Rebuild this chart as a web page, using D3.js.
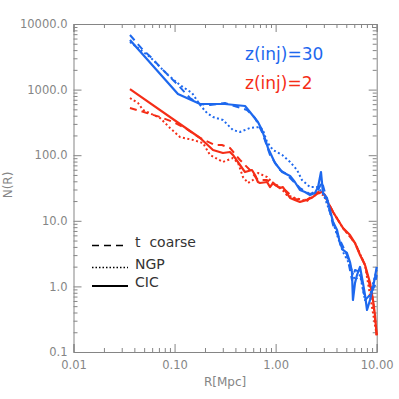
<!DOCTYPE html>
<html>
<head>
<meta charset="utf-8">
<script src="https://cdn.jsdelivr.net/npm/d3@7"></script>
<style>
  body { margin: 0; background: #fff; }
  svg { display: block; font-family: "DejaVu Sans", sans-serif; }
  .axis path { stroke: #858585; }
  .axis line { stroke: #858585; }
  .axis text { fill: #858585; font-size: 11.5px; font-family: "DejaVu Sans", sans-serif; }
</style>
</head>
<body>
<div class="chart"></div>
<script>
// [R (Mpc), N(R)] pairs
var blueCic = [[0.0362,5700],[0.108,857],[0.179,603],[0.315,603],[0.498,562],[0.557,455],[0.668,321],[0.733,242],
    [0.840,129],[0.986,76],[1.16,55.4],[1.39,48.2],[1.55,39],[1.74,29.5],[1.95,27.5],[2.19,24.7],[2.45,26.5],
    [2.63,32.7],[2.81,55.4],[2.94,26.5],[3.22,22.3],[3.45,14.6],[3.70,9.59],[4.05,7.24],[4.33,4.59],[4.64,3.59],
    [5.08,3.23],[5.44,2.35],[5.69,1.66],[5.82,0.62],[6.10,1.13],[6.38,1.49],[6.84,1.98],[7.31,1.13],[7.66,0.74],
    [8.02,0.437],[8.59,0.62],[9.19,0.98],[9.62,1.39],[10.0,1.98]];
var blueCoarse = [[0.0362,6800],[0.0488,4010],[0.0598,3030],[0.0718,2210],[0.0861,1670],[0.108,1175],[0.142,745],
    [0.179,603],[0.224,582],[0.315,625],[0.521,489],[0.625,369],[0.733,226],[0.879,101],[1.10,59.5],[1.24,53.5],
    [1.39,44.9],[1.74,31.6],[2.19,25.6],[2.63,29.5],[2.88,39],[3.22,20.8],[3.70,8.63],[4.33,5.10],[5.08,3.01],
    [5.69,1.25],[6.10,1.78],[6.84,1.66],[7.66,0.62],[8.59,0.74],[9.62,1.05],[10.0,1.49]];
var blueNgp = [[0.0362,5320],[0.0571,3140],[0.0686,2370],[0.0861,1670],[0.113,1175],[0.149,887],[0.179,582],
    [0.209,440],[0.240,382],[0.301,344],[0.378,242],[0.444,226],[0.557,260],[0.700,269],[0.750,242],[0.822,159],
    [0.942,120],[1.16,101],[1.39,78.8],[1.63,59.5],[1.82,41.9],[2.19,32.7],[2.57,32.7],[2.94,26.5],[3.45,13.6],
    [4.05,6.08],[4.64,3.34],[5.44,2.12],[6.10,1.25],[6.84,1.49],[7.66,0.62],[8.59,0.74],[10.0,1.78]];

var redCic = [[0.0362,1020],[0.179,183],[0.240,120],[0.301,108],[0.353,112],[0.378,101],[0.444,70.9],[0.498,55.4],
    [0.583,59.5],[0.625,49.9],[0.668,39],[0.700,37.7],[0.822,39],[0.879,32.7],[0.942,37.7],[1.10,31.6],[1.18,32.7],
    [1.29,26.5],[1.39,22.3],[1.55,20.8],[1.74,19.4],[2.04,20.8],[2.34,23.1],[2.63,26.5],[2.88,27.5],[3.08,24.7],
    [3.30,18.7],[3.70,13.6],[4.14,10.3],[4.64,7.76],[5.44,6.08],[6.10,4.59],[6.84,3.01],[7.66,2.12],[8.59,1.13],
    [9.19,0.62],[9.62,0.366],[10.0,0.18]];
var redCoarse = [[0.0362,524],[0.0533,440],[0.0718,382],[0.0964,321],[0.127,260],[0.179,183],[0.251,143],[0.294,143],
    [0.353,129],[0.444,84.5],[0.557,59.5],[0.668,41.9],[0.822,41.9],[0.986,35.1],[1.24,29.5],[1.55,21.5],[2.04,20.8],
    [2.63,27.5],[3.08,23.9],[3.70,13.6],[4.64,7.76],[6.10,4.59],[7.66,2.12],[9.19,0.62],[10.0,0.18]];
var redNgp = [[0.0362,745],[0.0435,625],[0.0488,489],[0.0718,369],[0.0902,260],[0.113,189],[0.152,171],[0.191,153],
    [0.224,101],[0.301,78.8],[0.378,90.6],[0.425,76],[0.475,46.5],[0.533,37.7],[0.597,41.9],[0.668,53.5],[0.822,46.5],
    [0.920,39],[1.10,32.7],[1.29,24.7],[1.55,22.3],[2.04,20],[2.63,26.5],[3.08,23.9],[3.70,13.6],[4.64,7.76],
    [6.10,4.59],[7.66,2.12],[10.0,0.18]];

var xMajor = [0.01, 0.1, 1, 10];
var yMajor = [0.1, 1, 10, 100, 1000, 10000];
var legendNames = ["t coarse", "NGP", "CIC"];
var runLabels = ["z(inj)=30", "z(inj)=2"];

var blue = "#1d68ee", red = "#f52d17";

var width = 399, height = 399;
var plot = {left: 73.5, right: 376.7, top: 24, bottom: 352};

var x = d3.scaleLog().domain([0.01, 10]).range([plot.left, plot.right]);
var y = d3.scaleLog().domain([0.1, 10000]).range([plot.bottom, plot.top]);

function minors(majors) {
    var out = [];
    majors.slice(0, -1).forEach(function(m) {
        for (var k = 2; k <= 9; k++) out.push(m * k);
    });
    return out;
}

var svg = d3.select(".chart").append("svg")
    .attr("width", width)
    .attr("height", height);

// frame and ticks (inward on all four sides)
function drawAxis(axisFn, scale, majors, translate, labels, fmt, pad) {
    var g = svg.append("g").attr("class", "axis").attr("transform", translate);
    g.call(axisFn(scale).tickValues(majors).tickSize(-8).tickPadding(pad)
        .tickFormat(labels ? d3.format(fmt) : function() { return ""; }));
    svg.append("g").attr("class", "axis").attr("transform", translate)
        .call(axisFn(scale).tickValues(minors(majors)).tickSize(-4).tickFormat(function() { return ""; }))
        .select(".domain").remove();
    return g;
}

drawAxis(d3.axisBottom, x, xMajor, "translate(0," + plot.bottom + ")", true, ".2f", 9);
drawAxis(d3.axisTop, x, xMajor, "translate(0," + plot.top + ")", false);
drawAxis(d3.axisLeft, y, yMajor, "translate(" + plot.left + ",0)", true, ".1f", 6);
drawAxis(d3.axisRight, y, yMajor, "translate(" + plot.right + ",0)", false);

svg.selectAll(".axis .domain").attr("stroke-width", 1);

svg.append("text")
    .attr("x", (plot.left + plot.right) / 2)
    .attr("y", 386)
    .attr("text-anchor", "middle")
    .attr("fill", "#858585")
    .attr("font-size", 12)
    .text("R[Mpc]");

svg.append("text")
    .attr("transform", "translate(12,185) rotate(-90)")
    .attr("text-anchor", "middle")
    .attr("fill", "#858585")
    .attr("font-size", 12)
    .text("N(R)");

var line = d3.line()
    .x(function(d) { return x(d[0]); })
    .y(function(d) { return y(d[1]); });

var series = [
    {data: redNgp, color: red, dash: "2,2.5", w: 2},
    {data: redCoarse, color: red, dash: "7,5", w: 2},
    {data: redCic, color: red, dash: null, w: 2.2},
    {data: blueNgp, color: blue, dash: "2,2.5", w: 2},
    {data: blueCoarse, color: blue, dash: "7,5", w: 2},
    {data: blueCic, color: blue, dash: null, w: 2.2}
];

svg.append("g").selectAll("path")
    .data(series)
    .enter().append("path")
    .attr("d", function(d) { return line(d.data); })
    .attr("fill", "none")
    .attr("stroke", function(d) { return d.color; })
    .attr("stroke-width", function(d) { return d.w; })
    .attr("stroke-linejoin", "round")
    .attr("stroke-dasharray", function(d) { return d.dash; });

// legend
var legendDash = ["7,5", "1.5,2", null];
var legendY = [245.5, 267.5, 286];
var legend = svg.append("g").selectAll("g")
    .data(legendNames)
    .enter().append("g")
    .attr("transform", function(d, i) { return "translate(0," + legendY[i] + ")"; });

legend.append("line")
    .attr("x1", 92).attr("x2", 128)
    .attr("stroke", "#000")
    .attr("stroke-width", function(d, i) { return i == 2 ? 2 : 1.5; })
    .attr("stroke-dasharray", function(d, i) { return legendDash[i]; });

legend.append("text")
    .attr("x", 135)
    .attr("y", 1)
    .attr("font-size", 14)
    .attr("fill", "#333")
    .style("white-space", "pre")
    .text(function(d) { return d.replace(" ", "  "); });

svg.selectAll(".run")
    .data(runLabels)
    .enter().append("text")
    .attr("class", "run")
    .attr("x", 245)
    .attr("y", function(d, i) { return 60 + i * 29; })
    .attr("font-size", 17)
    .attr("fill", function(d, i) { return i == 0 ? blue : red; })
    .text(function(d) { return d; });
</script>
</body>
</html>
